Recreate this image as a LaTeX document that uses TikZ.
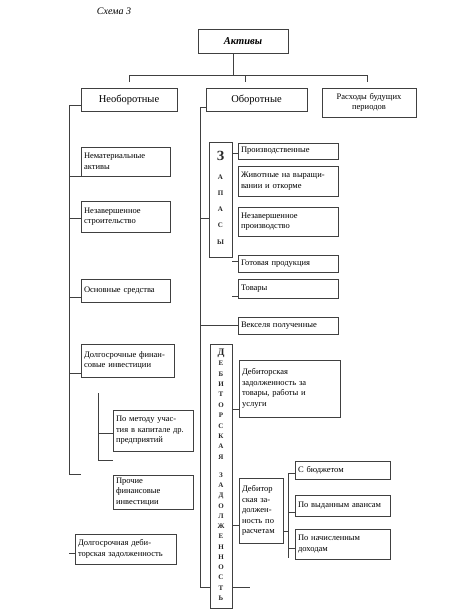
\documentclass[tikz,border=0pt]{standalone}
\usepackage{fontspec}
\setmainfont{Liberation Serif}
\begin{document}
\begin{tikzpicture}[x=1pt,y=-1pt,
  box/.style={draw=black!75, line width=0.7pt, inner xsep=3pt, inner ysep=0pt, align=left, font=\fontsize{8.5}{10.5}\selectfont, anchor=center},
  ln/.style={draw=black!75, line width=0.7pt},
  vl/.style={font=\fontsize{7}{7}\selectfont\bfseries, inner sep=0pt, text=black!85},
  vbox/.style={draw=black!75, line width=0.7pt, inner sep=0pt}]
\useasboundingbox (0,0) rectangle (464,613);

\node[font=\fontsize{10}{10}\selectfont\itshape] (title) at (114,11) {Схема 3};

% top level
\node[box, text width=84pt, minimum height=24pt, align=center, font=\fontsize{10.5}{12}\selectfont\bfseries\itshape] (aktivy) at (243,41) {Активы};
\node[box, text width=90pt, minimum height=23pt, align=center, font=\fontsize{10.5}{12}\selectfont] (neob) at (129,99.5) {Необоротные};
\node[box, text width=95pt, minimum height=23pt, align=center, font=\fontsize{10.5}{12}\selectfont] (ob) at (256.5,99.5) {Оборотные};
\node[box, text width=88pt, minimum height=29pt, align=center] (rbp) at (369,102.5) {Расходы будущих\\периодов};

% left column
\node[box, text width=83pt, minimum height=29pt] (nemat) at (125.5,161.5) {Нематериальные\\активы};
\node[box, text width=83pt, minimum height=31pt] (nezstr) at (125.5,216.5) {Незавершенное\\строительство};
\node[box, text width=83pt, minimum height=23pt] (osn) at (125.5,290.5) {Основные средства};
\node[box, text width=87pt, minimum height=33pt] (dfi) at (127.5,360.5) {Долгосрочные финан-\\совые инвестиции};
\node[box, text width=74pt, minimum height=41pt] (pometodu) at (153,430.5) {По методу учас-\\тия в капитале др.\\предприятий};
\node[box, text width=74pt, minimum height=34pt] (prochie) at (153,492) {Прочие\\финансовые\\инвестиции};
\node[box, text width=95pt, minimum height=30pt] (ddz) at (125.5,549) {Долгосрочная деби-\\торская задолженность};

% middle column
\node[vbox, minimum width=23pt, minimum height=115pt] (zapasy) at (220.5,199.5) {};
\node[box, text width=94pt, minimum height=16pt] (proizv) at (288,151) {Производственные};
\node[box, text width=94pt, minimum height=30pt] (zhiv) at (288,181) {Животные на выращи-\\вании и откорме};
\node[box, text width=94pt, minimum height=29pt] (nezpr) at (288,221.5) {Незавершенное\\производство};
\node[box, text width=94pt, minimum height=17pt] (gotov) at (288,263.5) {Готовая продукция};
\node[box, text width=94pt, minimum height=19pt] (tovary) at (288,288.5) {Товары};
\node[box, text width=94pt, minimum height=17pt] (veks) at (288,325.5) {Векселя полученные};

\node[vbox, minimum width=22pt, minimum height=264pt] (debvert) at (221,476) {};
\node[box, text width=95pt, minimum height=57pt] (debtov) at (289.5,388.5) {Дебиторская\\задолженность за\\товары, работы и\\услуги};
\node[box, text width=38pt, minimum height=65pt, inner xsep=3pt] (debrasch) at (261,510.5) {Дебитор\\ская за-\\должен-\\ность по\\расчетам};
\node[box, text width=89pt, minimum height=18pt] (sbud) at (342.5,470) {С бюджетом};
\node[box, text width=89pt, minimum height=21pt] (povyd) at (342.5,505.5) {По выданным авансам};
\node[box, text width=89pt, minimum height=30pt] (ponach) at (342.5,544) {По начисленным\\доходам};

% vertical letters: ЗАПАСЫ
\node[vl, font=\fontsize{14}{14}\selectfont\bfseries] (z0) at (220.5,156) {З};
\foreach \ch/\yy [count=\i] in {А/177,П/193,А/209,С/225,Ы/242}
  \node[vl] (z\i) at (220.5,\yy) {\ch};

% vertical letters: ДЕБИТОРСКАЯ ЗАДОЛЖЕННОСТЬ
\node[vl, font=\fontsize{10}{10}\selectfont\bfseries] (dv0) at (221,353) {Д};
\foreach \ch [count=\i] in {Е,Б,И,Т,О,Р,С,К,А,Я}
  \node[vl] (dv\i) at (221,{353+\i*10.4}) {\ch};
\foreach \ch [count=\i from 0] in {З,А,Д,О,Л,Ж,Е,Н,Н,О,С,Т,Ь}
  \node[vl] (dz\i) at (221,{475+\i*10.25}) {\ch};

% top bracket
\coordinate (T0) at (233,75);
\coordinate (TL) at (129,75);
\coordinate (TR) at (367,75);
\coordinate (TLd) at (129,82);
\coordinate (TMd) at (245,82);
\coordinate (TM) at (245,75);
\coordinate (TRd) at (367,82);
\draw[ln] (aktivy.south -| T0) -- (T0);
\draw[ln] (TLd) -- (TL) -- (TR) -- (TRd);
\draw[ln] (TM) -- (TMd);

% left trunk
\coordinate (L0) at (69,105);
\coordinate (L1) at (69,474);
\coordinate (L1e) at (81,474);
\draw[ln] (neob.west |- L0) -- (L0) -- (L1) -- (L1e);
\coordinate (La) at (69,176);
\coordinate (Lb) at (69,218);
\coordinate (Lc) at (69,297);
\coordinate (Ld) at (69,373);
\draw[ln] (La) -- (La -| nemat.west);
\draw[ln] (Lb) -- (Lb -| nezstr.west);
\draw[ln] (Lc) -- (Lc -| osn.west);
\draw[ln] (Ld) -- (Ld -| dfi.west);
\coordinate (I0) at (98,393);
\coordinate (I1) at (98,460);
\coordinate (I1e) at (113,460);
\coordinate (Im) at (98,433);
\draw[ln] (I0) -- (I1) -- (I1e);
\draw[ln] (Im) -- (Im -| pometodu.west);
\coordinate (Dd) at (69,553);
\draw[ln] (Dd) -- (Dd -| ddz.west);

% right trunk
\coordinate (R0) at (200,107);
\coordinate (R1) at (200,587);
\draw[ln] (ob.west |- R0) -- (R0) -- (R1) -- (R1 -| debvert.west);
\coordinate (Ra) at (200,218);
\coordinate (Rb) at (200,325);
\draw[ln] (Ra) -- (Ra -| zapasy.west);
\draw[ln] (Rb) -- (Rb -| veks.west);
\coordinate (Za) at (232,153);
\coordinate (Zb) at (232,261);
\coordinate (Zc) at (232,296);
\draw[ln] (zapasy.east |- Za) -- (Za -| proizv.west);
\draw[ln] (Zb) -- (Zb -| gotov.west);
\draw[ln] (Zc) -- (Zc -| tovary.west);
\coordinate (Da) at (0,409);
\coordinate (Db) at (0,525);
\coordinate (Dc) at (250,587);
\draw[ln] (debvert.east |- Da) -- (debtov.west |- Da);
\draw[ln] (debvert.east |- Db) -- (debrasch.west |- Db);
\draw[ln] (debvert.east |- Dc) -- (Dc);
\coordinate (B0) at (288,473);
\coordinate (B1) at (288,558);
\coordinate (Bm) at (288,531);
\coordinate (B2) at (288,512);
\coordinate (B3) at (288,548);
\draw[ln] (debrasch.east |- Bm) -- (Bm);
\draw[ln] (B0 -| sbud.west) -- (B0) -- (B1);
\draw[ln] (B2) -- (B2 -| povyd.west);
\draw[ln] (B3) -- (B3 -| ponach.west);
\end{tikzpicture}
\end{document}
